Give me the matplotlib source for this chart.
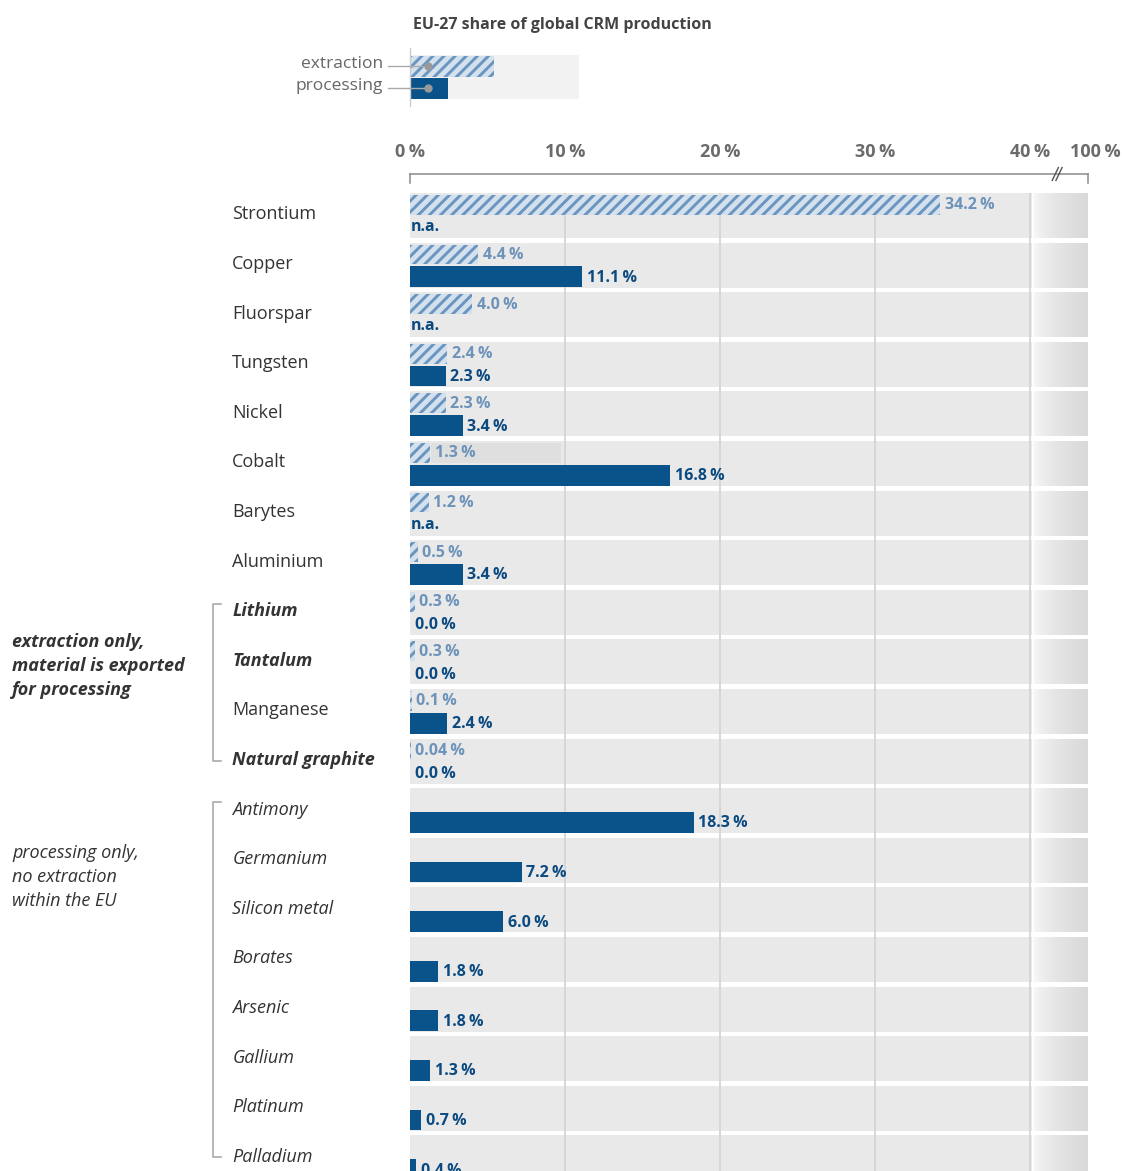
import numpy as np
import matplotlib.pyplot as plt
from matplotlib.patches import Rectangle
from matplotlib.colors import LinearSegmentedColormap

plt.rcParams['font.family'] = ['Open Sans', 'DejaVu Sans']
plt.rcParams['hatch.linewidth'] = 2.1

# data (EU-27 share of global production, %), None = n.a. / no bar
materials = ['Strontium', 'Copper', 'Fluorspar', 'Tungsten', 'Nickel', 'Cobalt',
             'Barytes', 'Aluminium', 'Lithium', 'Tantalum', 'Manganese',
             'Natural graphite', 'Antimony', 'Germanium', 'Silicon metal',
             'Borates', 'Arsenic', 'Gallium', 'Platinum', 'Palladium']
extraction = [34.2, 4.4, 4.0, 2.4, 2.3, 1.3, 1.2, 0.5, 0.3, 0.3, 0.1, 0.04,
              None, None, None, None, None, None, None, None]
processing = [None, 11.1, None, 2.3, 3.4, 16.8, None, 3.4, 0.0, 0.0, 2.4, 0.0,
              18.3, 7.2, 6.0, 1.8, 1.8, 1.3, 0.7, 0.4]
tick_vals = [0, 10, 20, 30, 40, 100]

W, H = 1123, 1171
C_PROC = '#0a528a'
C_PROC_TXT = '#0b4a80'
C_EXT = '#6b95bf'
C_EXT_FILL = '#d3e0ed'
C_EXT_TXT = '#6d93bb'
C_BAND = '#e9e9e9'
C_GRID = '#d4d4d4'
C_TXT = '#333333'


def xmap(v):
    # axis is linear up to 40 %, then squeezed up to 100 %
    return v if v <= 40 else 40 + (v - 40) * 3.74 / 60


def fmt(v):
    return f'{v:.2f}\u2009%' if 0 < v < 0.1 else f'{v:.1f}\u2009%'


fig = plt.figure(figsize=(W / 100, H / 100), dpi=100)
ax = fig.add_axes([410 / W, 0, 678 / W, 978 / H])
xmax = xmap(100)
n = len(materials)
band_h = 0.907

grad = np.linspace(0, 1, 200) ** 0.5
cmap = LinearSegmentedColormap.from_list('g', ['#fdfdfd', '#d9d9d9'])

for i in range(n):
    ax.add_patch(Rectangle((0, i), 40.15, band_h, color=C_BAND, lw=0, zorder=0))
    ax.imshow(grad[None, :], cmap=cmap, extent=(40.2, xmax, i + band_h, i),
              aspect='auto', zorder=0, interpolation='bilinear')

for g in [10, 20, 30, 40]:
    ax.axvline(g, color=C_GRID, lw=1.3, zorder=1)

# cobalt label backdrop
ax.add_patch(Rectangle((1.35, 5 + 0.04), 8.4, 0.40, color='#dfdfdf', lw=0, zorder=1))

for i in range(n):
    e = extraction[i]
    p = processing[i]
    if e is not None:
        ax.barh(i + 0.24, e, height=0.40, color=C_EXT_FILL, edgecolor=C_EXT,
                hatch='///', lw=0, zorder=2)
        ax.text(e + 0.3, i + 0.25, fmt(e), color=C_EXT_TXT, fontsize=11.5,
                fontweight='bold', va='center', ha='left', zorder=3)
    if p is None:
        ax.text(0.05, i + 0.69, 'n.a.', color=C_PROC_TXT, fontsize=11.5,
                fontweight='bold', va='center', ha='left', zorder=3)
    else:
        ax.barh(i + 0.69, p, height=0.42, color=C_PROC, lw=0, zorder=2)
        ax.text(p + 0.3, i + 0.71, fmt(p), color=C_PROC_TXT, fontsize=11.5,
                fontweight='bold', va='center', ha='left', zorder=3)

ax.set_xlim(0, xmax)
ax.set_ylim(978 / 49.6, 0)
for s in ax.spines.values():
    s.set_visible(False)
ax.set_xticks([])
ax.set_yticks(np.arange(n) + 0.39)
ax.set_yticklabels(materials)
ax.tick_params(axis='y', length=0, pad=128)
for lab, e, p in zip(ax.get_yticklabels(), extraction, processing):
    lab.set_ha('left')
    lab.set_fontsize(13)
    lab.set_color(C_TXT)
    if e is None:
        lab.set_style('italic')
    elif p == 0.0:
        lab.set_style('italic')
        lab.set_fontweight('bold')

# top axis with break
ytop = -0.383
ax.plot([0, xmax], [ytop, ytop], color='#8a8a8a', lw=1.1, clip_on=False)
for xe in [0, xmax]:
    ax.plot([xe, xe], [ytop, ytop + 0.19], color='#8a8a8a', lw=1.1, clip_on=False)
for dx in [-0.12, 0.12]:
    ax.plot([41.55 + dx, 41.95 + dx], [ytop + 0.13, ytop - 0.13],
            color='#555555', lw=1.0, clip_on=False)
for v in tick_vals:
    xo = 0.45 if v == 100 else 0
    ax.text(xmap(v) + xo, -0.83, f'{v}\u2009%', ha='center', va='center',
            fontsize=13, fontweight='bold', color='#6b6b6b', clip_on=False)

# overlay in pixel coordinates for legend, brackets and group notes
ov = fig.add_axes([0, 0, 1, 1], zorder=5)
ov.set_xlim(0, W)
ov.set_ylim(H, 0)
ov.axis('off')
ov.patch.set_alpha(0)

ov.text(562, 25, 'EU-27 share of global CRM production', ha='center', va='center',
        fontsize=11.5, fontweight='bold', color='#444444')
ov.add_patch(Rectangle((410, 55), 169, 44, color='#f2f2f2', lw=0))
ov.add_patch(Rectangle((410, 56), 84, 21, facecolor=C_EXT_FILL, edgecolor=C_EXT,
                       hatch='///', lw=0))
ov.add_patch(Rectangle((410, 78), 38, 21, color=C_PROC, lw=0))
ov.plot([410, 410], [48, 106], color='#cccccc', lw=1)
for yy, txt in [(66, 'extraction'), (88, 'processing')]:
    ov.text(383, yy - 2, txt, ha='right', va='center', fontsize=12.5, color='#666666')
    ov.plot([388, 428], [yy, yy], color='#aaaaaa', lw=1)
    ov.plot([428], [yy], 'o', color='#999999', ms=5)


def row_px(i):
    return 193 + 49.6 * i + 19


for r0, r1 in [(8, 11), (12, 19)]:
    y0 = row_px(r0) - 5
    y1 = row_px(r1) + 3
    ov.plot([221, 213, 213, 221], [y0, y0, y1, y1], color='#aaaaaa', lw=1.2)

ov.text(12, 666, 'extraction only,\nmaterial is exported\nfor processing',
        ha='left', va='center', fontsize=13, fontweight='bold', style='italic',
        color=C_TXT, linespacing=1.45)
ov.text(12, 877, 'processing only,\nno extraction\nwithin the EU',
        ha='left', va='center', fontsize=13, style='italic', color=C_TXT,
        linespacing=1.45)

fig.savefig('out.png', dpi=100)
